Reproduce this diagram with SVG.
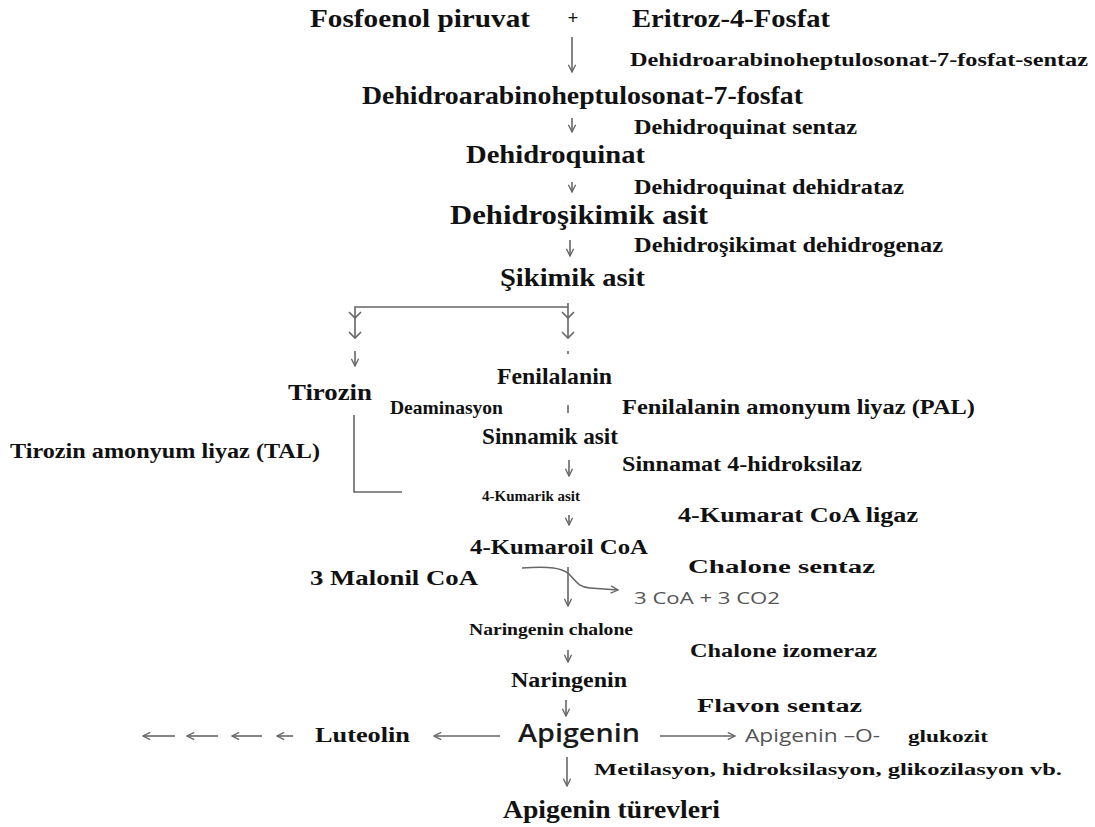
<svg xmlns="http://www.w3.org/2000/svg" width="1095" height="827" viewBox="0 0 1095 827">
<defs>
<style>
.m{font-family:"Liberation Serif","Times New Roman",serif;font-weight:bold;fill:#111}
.e{font-family:"Liberation Serif","Times New Roman",serif;font-weight:bold;fill:#111}
.s{font-family:"Open Sans","Liberation Sans",sans-serif;fill:#555}
.a{font-family:"Open Sans","Liberation Sans",sans-serif;fill:#1a1a1a;font-weight:600}
.c{fill:none;stroke:#666;stroke-width:1.6}
</style>
<marker id="ah" viewBox="0 0 10 10" refX="9" refY="5" markerWidth="9" markerHeight="9" markerUnits="userSpaceOnUse" orient="auto">
<path d="M1,1 L9,5 L1,9" fill="none" stroke="#666" stroke-width="1.5"/>
</marker>
</defs>
<rect width="1095" height="827" fill="#fff"/>

<g id="fosfoenol"><text class="m" x="310" y="27" font-size="26" textLength="220" lengthAdjust="spacingAndGlyphs">Fosfoenol piruvat</text></g>
<g id="plus"><text class="m" x="573" y="24" font-size="19" text-anchor="middle">+</text></g>
<g id="eritroz"><text class="m" x="632" y="27" font-size="26" textLength="198" lengthAdjust="spacingAndGlyphs">Eritroz-4-Fosfat</text></g>
<g id="enz1"><text class="e" x="630" y="66" font-size="18" textLength="458" lengthAdjust="spacingAndGlyphs">Dehidroarabinoheptulosonat-7-fosfat-sentaz</text></g>
<g id="dahp"><text class="m" x="362" y="104" font-size="26" textLength="441" lengthAdjust="spacingAndGlyphs">Dehidroarabinoheptulosonat-7-fosfat</text></g>
<g id="enz2"><text class="e" x="634" y="134" font-size="20" textLength="223" lengthAdjust="spacingAndGlyphs">Dehidroquinat sentaz</text></g>
<g id="dehidroquinat"><text class="m" x="466" y="163" font-size="26" textLength="179" lengthAdjust="spacingAndGlyphs">Dehidroquinat</text></g>
<g id="enz3"><text class="e" x="634" y="194" font-size="20" textLength="270" lengthAdjust="spacingAndGlyphs">Dehidroquinat dehidrataz</text></g>
<g id="dehidrosikimik"><text class="m" x="450" y="224" font-size="28" textLength="258" lengthAdjust="spacingAndGlyphs">Dehidroşikimik asit</text></g>
<g id="enz4"><text class="e" x="634" y="252" font-size="20" textLength="309" lengthAdjust="spacingAndGlyphs">Dehidroşikimat dehidrogenaz</text></g>
<g id="sikimik"><text class="m" x="500" y="286" font-size="26" textLength="145" lengthAdjust="spacingAndGlyphs">Şikimik asit</text></g>
<g id="tirozin"><text class="m" x="288" y="400" font-size="24" textLength="84" lengthAdjust="spacingAndGlyphs">Tirozin</text></g>
<g id="fenilalanin"><text class="m" x="497" y="384" font-size="24" textLength="115" lengthAdjust="spacingAndGlyphs">Fenilalanin</text></g>
<g id="deaminasyon"><text class="e" x="390" y="414" font-size="19" textLength="113" lengthAdjust="spacingAndGlyphs">Deaminasyon</text></g>
<g id="pal"><text class="e" x="622" y="414" font-size="20" textLength="353" lengthAdjust="spacingAndGlyphs">Fenilalanin amonyum liyaz (PAL)</text></g>
<g id="sinnamik"><text class="m" x="482" y="444" font-size="24" textLength="136" lengthAdjust="spacingAndGlyphs">Sinnamik asit</text></g>
<g id="tal"><text class="e" x="10" y="458" font-size="20" textLength="310" lengthAdjust="spacingAndGlyphs">Tirozin amonyum liyaz (TAL)</text></g>
<g id="c4h"><text class="e" x="622" y="471" font-size="20" textLength="240" lengthAdjust="spacingAndGlyphs">Sinnamat 4-hidroksilaz</text></g>
<g id="kumarik"><text class="m" x="482" y="501" font-size="15" textLength="98" lengthAdjust="spacingAndGlyphs">4-Kumarik asit</text></g>
<g id="4cl"><text class="e" x="678" y="522" font-size="20" textLength="240" lengthAdjust="spacingAndGlyphs">4-Kumarat CoA ligaz</text></g>
<g id="kumaroil"><text class="m" x="470" y="554" font-size="22" textLength="178" lengthAdjust="spacingAndGlyphs">4-Kumaroil CoA</text></g>
<g id="malonil"><text class="m" x="310" y="585" font-size="22" textLength="168" lengthAdjust="spacingAndGlyphs">3 Malonil CoA</text></g>
<g id="chs"><text class="e" x="688" y="573" font-size="18" textLength="187" lengthAdjust="spacingAndGlyphs">Chalone sentaz</text></g>
<g id="coa"><text class="s" x="634" y="604" font-size="17" textLength="146" lengthAdjust="spacingAndGlyphs">3 CoA + 3 CO2</text></g>
<g id="chalone"><text class="m" x="469" y="635" font-size="17" textLength="164" lengthAdjust="spacingAndGlyphs">Naringenin chalone</text></g>
<g id="chi"><text class="e" x="690" y="657" font-size="18" textLength="187" lengthAdjust="spacingAndGlyphs">Chalone izomeraz</text></g>
<g id="naringenin"><text class="m" x="511" y="687" font-size="20" textLength="116" lengthAdjust="spacingAndGlyphs">Naringenin</text></g>
<g id="fns"><text class="e" x="697" y="712" font-size="18" textLength="165" lengthAdjust="spacingAndGlyphs">Flavon sentaz</text></g>
<g id="apigenin"><text class="a" x="518" y="742" font-size="25" textLength="122" lengthAdjust="spacingAndGlyphs">Apigenin</text></g>
<g id="luteolin"><text class="m" x="315" y="742" font-size="22" textLength="95" lengthAdjust="spacingAndGlyphs">Luteolin</text></g>
<g id="apigenin-o"><text class="s" x="745" y="742" font-size="19" textLength="135" lengthAdjust="spacingAndGlyphs">Apigenin –O-</text><text class="e" x="908" y="742" font-size="17" textLength="80" lengthAdjust="spacingAndGlyphs">glukozit</text></g>
<g id="modif"><text class="e" x="594" y="775" font-size="17" textLength="468" lengthAdjust="spacingAndGlyphs">Metilasyon, hidroksilasyon, glikozilasyon vb.</text></g>
<g id="turevleri"><text class="m" x="503" y="818" font-size="25" textLength="217" lengthAdjust="spacingAndGlyphs">Apigenin türevleri</text></g>

<g id="connectors">
<line class="c" x1="572" y1="37" x2="572" y2="72" marker-end="url(#ah)"/>
<line class="c" x1="572" y1="118" x2="572" y2="132" marker-end="url(#ah)"/>
<line class="c" x1="572" y1="182" x2="572" y2="192" marker-end="url(#ah)"/>
<line class="c" x1="570" y1="240" x2="570" y2="256" marker-end="url(#ah)"/>
<path class="c" d="M355,338 V307 H568 M568,303 V338"/>
<path class="c" d="M349,312 L355,318 L361,312 M349,332 L355,338 L361,332"/>
<path class="c" d="M562,312 L568,318 L574,312 M562,332 L568,338 L574,332"/>
<line class="c" x1="355" y1="351" x2="355" y2="366" marker-end="url(#ah)"/>
<line class="c" x1="568" y1="351" x2="568" y2="354"/>
<line class="c" x1="568" y1="405" x2="568" y2="413"/>
<line class="c" x1="569" y1="460" x2="569" y2="476" marker-end="url(#ah)"/>
<path class="c" d="M354,415 V492 H402"/>
<line class="c" x1="569" y1="515" x2="569" y2="525" marker-end="url(#ah)"/>
<line class="c" x1="568" y1="567" x2="568" y2="606" marker-end="url(#ah)"/>
<path class="c" d="M522,568 C550,566 562,568 569,574 C576,581 578,587 590,588 L618,590" marker-end="url(#ah)"/>
<line class="c" x1="568" y1="650" x2="568" y2="662" marker-end="url(#ah)"/>
<line class="c" x1="566" y1="700" x2="566" y2="716" marker-end="url(#ah)"/>
<line class="c" x1="500" y1="736" x2="434" y2="736" marker-end="url(#ah)"/>
<line class="c" x1="175" y1="736" x2="143" y2="736" marker-end="url(#ah)"/>
<line class="c" x1="218" y1="736" x2="187" y2="736" marker-end="url(#ah)"/>
<line class="c" x1="262" y1="736" x2="232" y2="736" marker-end="url(#ah)"/>
<line class="c" x1="293" y1="736" x2="277" y2="736" marker-end="url(#ah)"/>
<line class="c" x1="660" y1="736" x2="735" y2="736" marker-end="url(#ah)"/>
<line class="c" x1="567" y1="757" x2="567" y2="786" marker-end="url(#ah)"/>
</g>
</svg>
